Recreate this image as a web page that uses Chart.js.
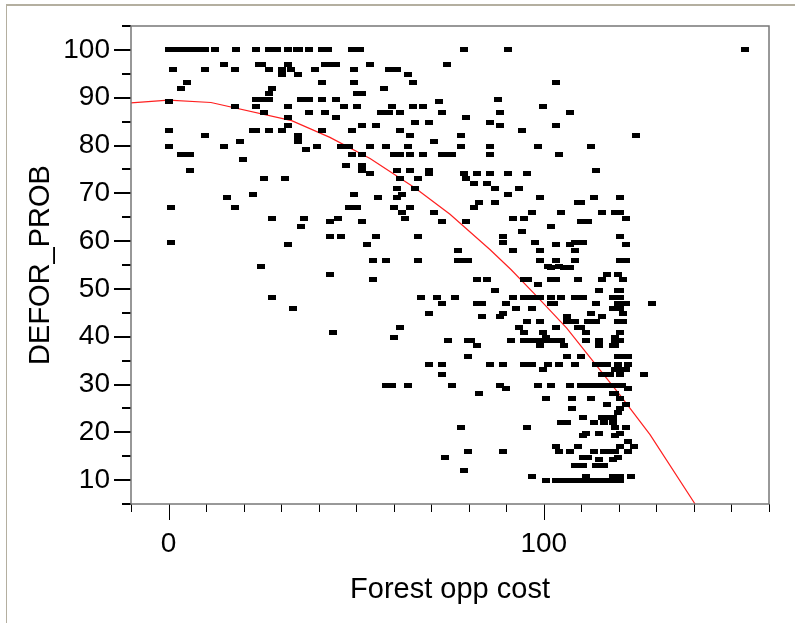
<!DOCTYPE html>
<html>
<head>
<meta charset="utf-8">
<title>DEFOR_PROB vs Forest opp cost</title>
<script src="https://cdn.jsdelivr.net/npm/chart.js@4/dist/chart.umd.js"></script>
<style>
  html, body { margin: 0; padding: 0; background: #fff; overflow: hidden; }
  #wrap { position: relative; width: 795px; height: 623px; }
  #frame { position: absolute; left: 6px; top: 4px; right: 0; bottom: 0; border-left: 1px solid #b4afa0; border-top: 2px solid #b4afa0; }
  canvas { position: absolute; left: 0; top: 0; }
</style>
</head>
<body>
<div id="wrap">
  <div id="frame"></div>
  <canvas id="chart" width="795" height="623"></canvas>
</div>
<script>
const xTickLabels = [0, 100];
const yTickLabels = [10, 20, 30, 40, 50, 60, 70, 80, 90, 100];

// DEFOR_PROB levels, and the Forest opp cost values read along each level
const probLevels = [
  100, 97, 95.9, 94.8, 93.1, 92, 90.9, 89.7, 89.2, 88.1,
  87, 85.9, 84.8, 84.2, 83.1, 82, 81.4, 80.9, 79.8, 79.2,
  78.1, 77, 75.9, 74.8, 74.2, 73.1, 72, 70.9, 69.8, 69.2,
  68.1, 67, 65.9, 64.8, 64.2, 63.1, 62, 60.9, 59.8, 59.2,
  58.1, 55.9, 54.7, 54.4, 53.1, 52, 50.9, 49.7, 48.1, 47,
  45.8, 44.8, 44.2, 43.1, 42, 40.9, 39.8, 39.2, 38.1, 35.9,
  34.2, 33.1, 32, 29.8, 29.2, 28.1, 27.1, 25.9, 24.9, 24.2,
  23.2, 22, 20.9, 19.8, 19.3, 18.1, 17, 15.9, 14.8, 14.3,
  13.1, 12, 10.8, 9.9
];
const costByLevel = [
  [0, 1.1, 2.2, 3.2, 4.4, 5.5, 6.6, 7.7, 9.8, 12.4, 17.9, 23.2, 26.9, 29, 31.8, 34.1, 34.8, 37.4, 41, 42.6, 48.8, 50.9, 78.6, 90.5, 153.6],
  [14.8, 24, 24.8, 31.8, 41.7, 43.5, 44.6, 53.7, 74.3],
  [1.3, 9.8, 17.6, 26.9, 30.3, 32.5, 38.9, 49.5, 58.7, 60.9],
  [30.3, 34.6, 63.7],
  [4.8, 41, 49.5, 65.1, 103.3],
  [3.4, 27.5, 57.3],
  [26.8, 50.2, 51.6],
  [23.2, 25.4, 26.8, 35.3, 37.4, 41, 44.5, 87.8],
  [0, 72.2],
  [17.6, 23.2, 31.8, 46.7, 50.2, 59.5, 65.1, 67.9, 99.8],
  [25.4, 37.4, 41.7, 56.6, 58.7, 61.6, 72.9, 88.4, 106.9],
  [31.8, 44.5, 79.2],
  [65.8, 69.3, 85.7],
  [31.8, 51.6, 55.2, 88.4, 103.3],
  [0, 22.6, 23.2, 26.9, 30.3, 41, 48.8, 61.6, 94.1],
  [9.8, 34.6, 64.4, 77.9, 124.6],
  [34.6],
  [19, 34.6, 70.7],
  [0, 14.8, 39.6, 46, 48.1, 53.8, 58, 63.7, 77.9, 85.7, 98.4, 112.6],
  [36.7],
  [3.4, 4.8, 5.7, 48.8, 51.6, 60.2, 61.6, 64.4, 67.9, 72.9, 74.6, 75.4, 85.7, 104],
  [19.8],
  [47.4, 51.6],
  [5.6, 51.6, 60.9, 64.4, 69.3, 113.9],
  [53.8, 69.3, 78.6, 82.1, 85.7, 90.5, 95.5],
  [25.4, 31, 61.6, 66.5, 79.2],
  [81.3, 84.9],
  [60.9, 65.8, 87, 93.4],
  [22.6, 49.5, 62.3, 90.5],
  [15.5, 55.9, 60.9, 99.1, 113.3, 120.4],
  [82.7, 87, 109.1, 109.8],
  [0.6, 17.6, 48.1, 50.2, 60.2, 64.4, 81.3],
  [62.3, 70.7, 96.9, 104.7, 115.4, 119, 120.4],
  [27.5, 36, 45.2, 63, 91.9, 94.8, 121.8],
  [43.1, 51.6, 72.9, 79.2, 109.8, 111.9],
  [35.3, 101.9],
  [94.1],
  [43.1, 46, 55.2, 66.5, 89.1, 120.4],
  [0.6, 89.1, 97.6, 108.3, 110.5],
  [31.8, 53, 103.3, 106.9, 121.8],
  [77.1, 91.9, 99.1, 108.3],
  [54.5, 58, 66.5, 77.1, 79.2, 79.9, 99.1, 103.3, 108.3, 120.4, 121.8],
  [24.6, 101.2, 104],
  [101.9, 105.5, 106.9],
  [43.1, 116.8, 119.7],
  [54.5, 82.1, 84.9, 94.8, 95.7, 101.9, 103.3, 109, 115.4, 121.1],
  [98.4],
  [87, 114.7, 119.7, 120.4],
  [27.5, 67.3, 71.5, 76.3, 91.9, 94.8, 96.9, 99.1, 101.9, 104.7, 108.3, 110.5, 118.3, 120.4],
  [72.9, 82.1, 83.5, 89.9, 101.9, 102.6, 113.9, 119.7, 121.8, 128.8],
  [33.2, 92.7, 96.9, 118.3, 120.4],
  [69.3, 89.1, 112.6, 121.1],
  [83.5, 88.4, 106.2, 115.4],
  [95.5, 99.1, 106.2, 108.3, 111.9, 114, 119.7, 121.1],
  [61.6, 93.4, 103.3, 109, 109.8],
  [43.8, 94.8, 99.8, 111.2, 120.4],
  [60.2, 100.5, 119],
  [74.6, 79.9, 80.6, 91.3, 94.8, 96.9, 98.4, 100.5, 101.9, 103.3, 104.7, 111.2, 114.7, 119, 120.4],
  [82.1, 99.1, 105.5, 114.7, 118.3, 119],
  [79.9, 106.2, 109.8, 119.7, 121.8, 122.5],
  [69.3, 72.9, 85.7, 89.1, 94.8, 96.9, 101.2, 104, 108.3, 114, 115.4, 116.8, 119.7, 122.5],
  [99.8, 119, 119.7, 121.8],
  [72.9, 115.4, 117.5, 120.4, 126.8],
  [58, 59.5, 63.7, 75.4, 88.4, 98.4, 101.9, 106.9, 109.8, 110.5, 111.9, 114, 115.4, 116.8, 118.3, 119.7, 120.7],
  [89.9, 122.5],
  [82.8, 118.3, 119],
  [100.5, 107.6, 112.6, 120.4],
  [116.8, 121.8],
  [107.6, 120.4],
  [119.7],
  [110.5, 115.4, 117.5, 118.3],
  [104.7, 106.2, 113.3, 116.1, 118.3],
  [77.9, 95.5, 119, 121.8],
  [111.2, 114.7, 120.4],
  [110.5, 119],
  [122.5],
  [103.3, 109, 120.4, 123.9],
  [79.9, 89.1, 104, 106.9, 113.3, 116.1, 116.8, 119, 122.5],
  [73.6, 110.5, 111.9, 119.7],
  [114.7, 118.3],
  [108.3, 110.5, 114, 116.1],
  [78.6],
  [96.9, 111.2, 118.3, 120.4, 123.2],
  [100.5, 103.3, 105.5, 106.9, 109, 109.8, 111.9, 114, 115.4, 117.5, 119, 120.4]
];

// fitted curve
const curveCost = [-10, 0, 11.3, 32.8, 43, 53.7, 65.7, 75, 85.7, 91.3, 97.7, 106.1, 113.2, 120.3, 128.3, 140.3];
const curveProb = [88.9, 89.5, 89, 85.2, 81.7, 77.3, 71.1, 65.6, 58.2, 54, 48.8, 41.8, 34.8, 27.8, 19.5, 5];

const scatterData = [];
probLevels.forEach((p, i) => costByLevel[i].forEach(c => scatterData.push({ x: c, y: p })));
const curveData = curveCost.map((c, i) => ({ x: c, y: curveProb[i] }));

// the marks in the plot are small flat dashes, not round dots
function makeDash() {
  const c = document.createElement('canvas');
  c.width = 8; c.height = 5;
  const g = c.getContext('2d');
  g.fillStyle = '#000';
  g.fillRect(0, 0, 8, 5);
  return c;
}

// ticks of two lengths and the grey box round the plot
const axisBox = {
  id: 'axisBox',
  afterDatasetsDraw(chart) {
    const { ctx, chartArea: a, scales } = chart;
    ctx.save();
    ctx.fillStyle = '#000';
    scales.y.ticks.forEach(t => {
      const y = Math.round(scales.y.getPixelForValue(t.value));
      const len = yTickLabels.includes(t.value) ? 17 : 9;
      ctx.fillRect(a.left - len, y - 1, len, 2);
    });
    scales.x.ticks.forEach(t => {
      const x = Math.round(scales.x.getPixelForValue(t.value));
      const len = xTickLabels.includes(t.value) ? 16 : 8;
      ctx.fillRect(x, a.bottom, 1, len);
    });
    ctx.strokeStyle = '#777';
    ctx.lineWidth = 1.5;
    ctx.strokeRect(a.left, a.top, a.right - a.left, a.bottom - a.top);
    ctx.restore();
  }
};

const labelFont = { family: '"Liberation Sans", Arial, sans-serif', size: 28 };
const titleFont = { family: '"Liberation Sans", Arial, sans-serif', size: 29 };

new Chart(document.getElementById('chart').getContext('2d'), {
  type: 'scatter',
  data: {
    datasets: [
      {
        label: 'DEFOR_PROB',
        data: scatterData,
        pointStyle: makeDash(),
        pointRadius: 3,
        showLine: false
      },
      {
        label: 'Fit',
        data: curveData,
        showLine: true,
        pointRadius: 0,
        borderColor: '#ff2020',
        borderWidth: 1.2,
        tension: 0
      }
    ]
  },
  options: {
    responsive: false,
    animation: false,
    devicePixelRatio: 1,
    layout: { padding: { top: 26, right: 26, left: 0, bottom: 0 } },
    plugins: { legend: { display: false }, tooltip: { enabled: false } },
    scales: {
      x: {
        type: 'linear', min: -10, max: 160,
        grid: { display: false },
        border: { display: false },
        afterFit(s) { s.height = 119; s.paddingLeft = 0; s.paddingRight = 0; },
        ticks: {
          stepSize: 10, autoSkip: false, maxRotation: 0, minRotation: 0,
          color: '#000', font: labelFont, padding: 15,
          callback: v => xTickLabels.includes(v) ? String(v) : ''
        },
        title: { display: true, text: 'Forest opp cost', color: '#000', font: titleFont, padding: { top: 0, bottom: 16 } }
      },
      y: {
        type: 'linear', min: 5, max: 105,
        grid: { display: false },
        border: { display: false },
        afterFit(s) { s.width = 131; s.paddingTop = 0; s.paddingBottom = 0; },
        ticks: {
          stepSize: 5, autoSkip: false,
          color: '#000', font: labelFont, padding: 13,
          callback: v => yTickLabels.includes(v) ? String(v) : ''
        },
        title: { display: true, text: 'DEFOR_PROB', color: '#000', font: titleFont, padding: { top: 24, bottom: 0 } }
      }
    }
  },
  plugins: [axisBox]
});
</script>
</body>
</html>
